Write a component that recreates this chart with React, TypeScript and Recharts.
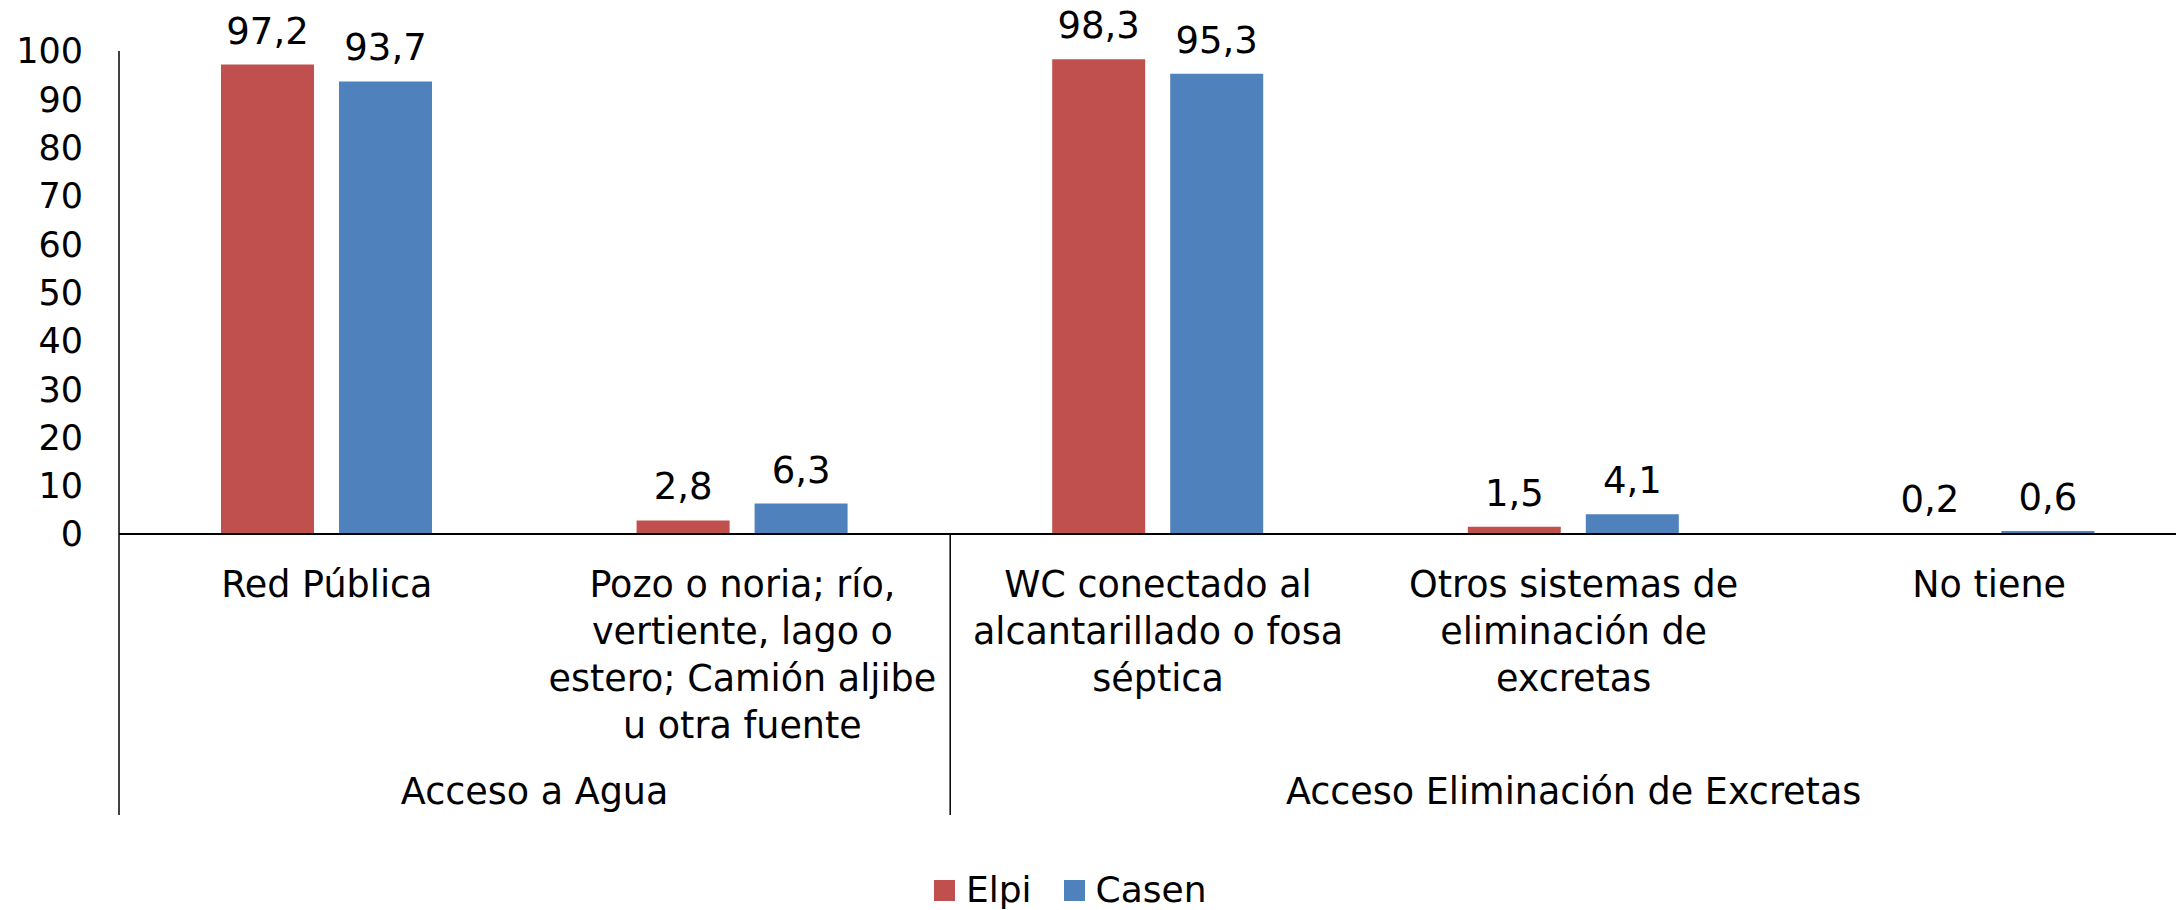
import React from 'react';
import { BarChart, Bar, XAxis, YAxis, Legend, LabelList } from 'recharts';

// categorías (eje X) y líneas de cada etiqueta
const categories = [
    'Red Pública',
    'Pozo o noria; río, vertiente, lago o estero; Camión aljibe u otra fuente',
    'WC conectado al alcantarillado o fosa séptica',
    'Otros sistemas de eliminación de excretas',
    'No tiene',
];
const categoryLines = [
    ['Red Pública'],
    ['Pozo o noria; río,', 'vertiente, lago o', 'estero; Camión aljibe', 'u otra fuente'],
    ['WC conectado al', 'alcantarillado o fosa', 'séptica'],
    ['Otros sistemas de', 'eliminación de', 'excretas'],
    ['No tiene'],
];

// grupos de categorías
const groupNames = ['Acceso a Agua', 'Acceso Eliminación de Excretas'];
const groupStart = [0, 2];
const groupEnd = [1, 4];

// series
const elpiValues = [97.2, 2.8, 98.3, 1.5, 0.2];
const casenValues = [93.7, 6.3, 95.3, 4.1, 0.6];

const yTicks = [0, 10, 20, 30, 40, 50, 60, 70, 80, 90, 100];

const FONT = '"DejaVu Sans", Verdana, sans-serif';
const RED = '#C0504D';
const BLUE = '#4F81BD';

const data = categories.map((name, i) => ({
    name,
    elpi: elpiValues[i],
    casen: casenValues[i],
}));

const fmt = (v: number) => v.toFixed(1).replace('.', ',');

const CategoryTick = (props: any) => {
    const { x, y, index, payload } = props;
    const half = payload.offset || 0;
    const lines = categoryLines[index] || [];
    const g = groupStart.indexOf(index);
    let groupEl = null;
    if (g >= 0) {
        const span = groupEnd[g] - groupStart[g] + 1;
        const left = x - half;
        const cx = left + span * half;
        groupEl = (
            <g>
                <line x1={left} y1={y} x2={left} y2={y + 281} stroke="#000" strokeWidth={1.5} />
                <text x={cx} y={y + 270} textAnchor="middle" fontSize={36.5} fontFamily={FONT} fill="#000">
                    {groupNames[g]}
                </text>
            </g>
        );
    }
    return (
        <g>
            {lines.map((l: string, i: number) => (
                <text
                    key={i}
                    x={x}
                    y={y + 63 + i * 47}
                    textAnchor="middle"
                    fontSize={36.5}
                    fontFamily={FONT}
                    fill="#000"
                >
                    {l}
                </text>
            ))}
            {groupEl}
        </g>
    );
};

const renderLegend = () => (
    <div style={{ height: 40, display: 'flex', alignItems: 'center', paddingLeft: 934, fontFamily: FONT, fontSize: 36 }}>
        {[
            { label: 'Elpi', color: RED },
            { label: 'Casen', color: BLUE },
        ].map((item, i) => (
            <div key={item.label} style={{ display: 'flex', alignItems: 'center', marginLeft: i ? 32 : 0 }}>
                <span style={{ width: 21, height: 21, background: item.color, display: 'inline-block', marginRight: 11 }} />
                <span style={{ color: '#000', lineHeight: '40px' }}>{item.label}</span>
            </div>
        ))}
    </div>
);

const App: React.FC = () => {
    return (
        <div
            style={{
                position: 'fixed',
                left: 0,
                top: 0,
                width: 2176,
                height: 910,
                overflow: 'hidden',
                background: '#fff',
            }}
        >
            <BarChart
                width={2200}
                height={910}
                data={data}
                margin={{ top: 51, right: 3, left: 0, bottom: 0 }}
                barSize={93}
                barGap={25}
            >
                <XAxis
                    dataKey="name"
                    interval={0}
                    tickLine={false}
                    tickSize={0}
                    tickMargin={0}
                    height={336}
                    axisLine={{ stroke: '#000', strokeWidth: 2 }}
                    tick={<CategoryTick />}
                />
                <YAxis
                    width={119}
                    domain={[0, 100]}
                    ticks={yTicks}
                    interval={0}
                    tickLine={false}
                    tickSize={0}
                    tickMargin={36}
                    axisLine={{ stroke: '#000', strokeWidth: 1.5 }}
                    tick={{ fontSize: 35, fill: '#000', fontFamily: FONT }}
                />
                <Legend
                    verticalAlign="bottom"
                    content={renderLegend}
                    wrapperStyle={{ left: 0, width: 2176, height: 40, bottom: 0 }}
                />
                <Bar dataKey="elpi" name="Elpi" fill={RED} minPointSize={1} isAnimationActive={false}>
                    <LabelList
                        dataKey="elpi"
                        position="top"
                        offset={21}
                        formatter={(v: any) => fmt(Number(v))}
                        style={{ fontSize: 37, fill: '#000', fontFamily: FONT }}
                    />
                </Bar>
                <Bar dataKey="casen" name="Casen" fill={BLUE} isAnimationActive={false}>
                    <LabelList
                        dataKey="casen"
                        position="top"
                        offset={21}
                        formatter={(v: any) => fmt(Number(v))}
                        style={{ fontSize: 37, fill: '#000', fontFamily: FONT }}
                    />
                </Bar>
            </BarChart>
        </div>
    );
};

export default App;
